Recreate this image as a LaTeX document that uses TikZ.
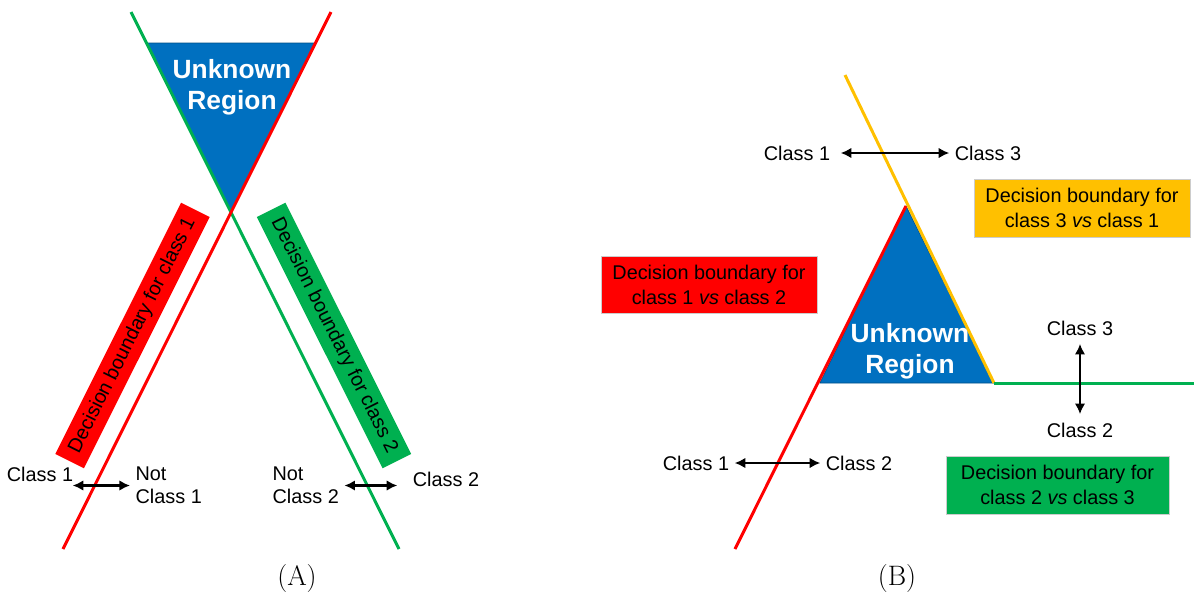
\documentclass[tikz,border=0pt]{standalone}
\usepackage{fontspec}
\usetikzlibrary{arrows.meta}
\newfontfamily\arialf{Liberation Sans}
\definecolor{bdred}{RGB}{255,0,0}
\definecolor{bdgreen}{RGB}{0,176,80}
\definecolor{bdyellow}{RGB}{255,192,0}
\definecolor{regblue}{RGB}{0,112,192}
\begin{document}
\begin{tikzpicture}[x=0.02cm, y=-0.02cm,
  bound/.style={line width=1.7pt},
  region/.style={fill=regblue, draw=regblue!70!black, line width=0.4pt},
  regtext/.style={text=white, align=center, font=\arialf\bfseries\fontsize{15}{17.8}\selectfont},
  lbl/.style={font=\arialf\fontsize{11.3}{13}\selectfont, inner sep=3pt},
  dbox/.style={font=\arialf\fontsize{11.3}{14.2}\selectfont, align=center, draw=black!20, line width=0.4pt, inner sep=0pt},
  dbl/.style={{Latex[length=6pt,width=6pt]}-{Latex[length=6pt,width=6pt]}, line width=1.4pt},
  captxt/.style={font=\fontsize{16}{19}\selectfont}]
  \useasboundingbox (0,0) rectangle (1194,599);

  % (A): one boundary per class
  \path[region] (147,43) -- (315,43) -- (231,213) -- cycle;
  \draw[bound, bdgreen] (131,12) -- (399,549);
  \draw[bound, bdred] (331,12) -- (63,549);
  \node[regtext] (unkA) at (232,87.5) {Unknown\\Region};

  % rotated boundary boxes
  \node[dbox, draw=none, fill=bdred, rotate=63.4, minimum width=5.62cm, minimum height=0.64cm]
    (boxA1) at (132.5,335.5) {Decision boundary for class 1};
  \node[dbox, draw=none, fill=bdgreen, rotate=-63.4, minimum width=5.62cm, minimum height=0.64cm]
    (boxA2) at (334,335.5) {Decision boundary for class 2};

  % labels and arrows
  \node[lbl] (c1A) at (40,474) {Class 1};
  \node[lbl, anchor=west, align=left] (nc1A) at (130,485.5) {Not\\Class 1};
  \node[lbl, anchor=west, align=left] (nc2A) at (267,485.5) {Not\\Class 2};
  \node[lbl] (c2A) at (446,479) {Class 2};
  \draw[dbl, shorten <=-0.12cm] (nc1A.west -| c1A.east) -- (nc1A.west);
  \draw[dbl, shorten >=0.2cm] (nc2A.east) -- (nc2A.east -| c2A.west);

  % (B): pairwise boundaries
  \path[region] (820,383) -- (906,206) -- (994,383) -- cycle;
  \draw[bound, bdred] (906,206) -- (735,549);
  \draw[bound, bdyellow] (845,75) -- (994,383);
  \draw[bound, bdgreen] (994,383) -- (1194,383);
  \node[regtext] (unkB) at (910,351.5) {Unknown\\Region};

  % boundary boxes
  \node[dbox, fill=bdyellow, minimum width=4.32cm, minimum height=1.16cm]
    (box13) at (1082,208) {Decision boundary for\\class 3 \textit{vs} class 1};
  \node[dbox, fill=bdred, minimum width=4.32cm, minimum height=1.14cm]
    (box12) at (709,284.5) {Decision boundary for\\class 1 \textit{vs} class 2};
  \node[dbox, fill=bdgreen, minimum width=4.46cm, minimum height=1.16cm]
    (box23) at (1057.5,485) {Decision boundary for\\class 2 \textit{vs} class 3};

  % labels and arrows
  \node[lbl] (c1top) at (797,153) {Class 1};
  \node[lbl] (c3top) at (988,153) {Class 3};
  \draw[dbl, shorten <=0.1cm] (c1top) -- (c3top);
  \node[lbl] (c3rt) at (1080,328) {Class 3};
  \node[lbl] (c2rt) at (1080,430) {Class 2};
  \draw[dbl, shorten <=0.06cm, shorten >=0.06cm] (c3rt) -- (c2rt);
  \node[lbl] (c1bot) at (696,463) {Class 1};
  \node[lbl] (c2bot) at (859,463) {Class 2};
  \draw[dbl] (c1bot) -- (c2bot);

  % captions
  \node[captxt] (capA) at (297,578) {(A)};
  \node[captxt] (capB) at (897,578) {(B)};
\end{tikzpicture}
\end{document}
